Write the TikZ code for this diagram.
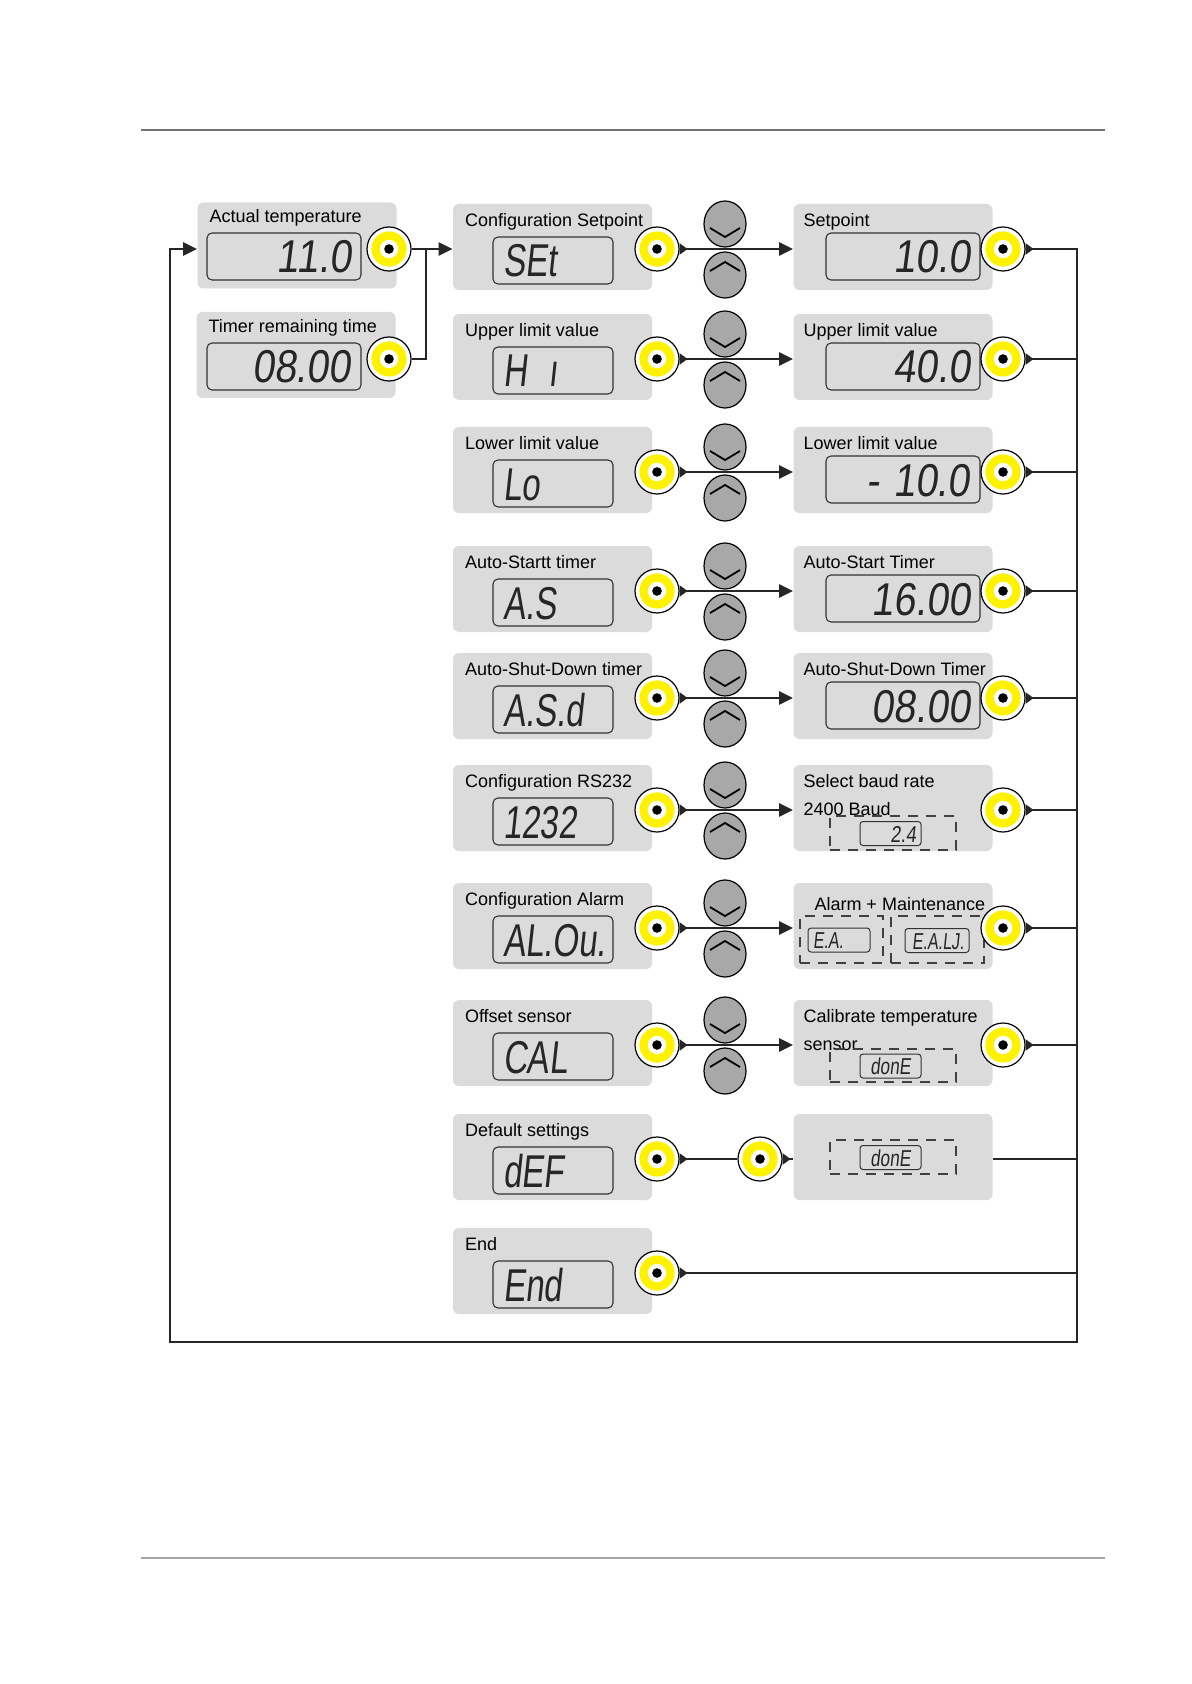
\documentclass[tikz,border=0pt]{standalone}
\usepackage{fontspec}
\setmainfont{Liberation Sans}
\newfontfamily\segfont{Liberation Sans}[FakeSlant=0.15]
\usepackage{tikz}
\usetikzlibrary{arrows.meta,positioning,shapes.geometric,calc}
\definecolor{panelgray}{RGB}{219,219,219}
\definecolor{keygray}{RGB}{168,168,168}
\definecolor{okyellow}{RGB}{255,242,0}
\newcommand{\seg}[2][0.86]{\scalebox{#1}[1]{\segfont #2}}

\begin{document}
\begin{tikzpicture}[x=0.5pt,y=-0.5pt,
  panel/.style={fill=panelgray,rounded corners=3pt,minimum width=99.5pt,
              minimum height=43pt,inner sep=0pt},
  lbl/.style={anchor=north west,inner sep=0pt,font=\fontsize{9}{11}\selectfont},
  lcd/.style={draw=black!80,line width=0.55pt,rounded corners=2.5pt,
              minimum height=23.5pt,inner xsep=5pt,inner ysep=0pt,text=black!85,
              text height=16.5pt,text depth=0pt,font=\fontsize{23}{23}\selectfont},
  lcdm/.style={lcd,text width=50pt,align=left},
  lcds/.style={lcd,text width=67pt,align=right},
  lcdx/.style={draw=black!80,line width=0.5pt,rounded corners=1.5pt,text=black!85,
              minimum height=12pt,inner xsep=2.5pt,inner ysep=0pt,
              text height=8.5pt,text depth=0pt,font=\fontsize{11.5}{11.5}\selectfont},
  dbox/.style={draw=black!75,line width=0.6pt,dash pattern=on 5pt off 4pt,inner sep=0pt},
  okbtn/.style={circle,draw,line width=0.6pt,fill=white,minimum size=22pt,inner sep=0pt,
     path picture={
       \fill[okyellow] (path picture bounding box.center) circle (8.8pt);
       \fill[white] (path picture bounding box.center) circle (4.6pt);
       \fill[black] (path picture bounding box.center) circle (2.4pt);}},
  key/.style={ellipse,draw,line width=0.6pt,fill=keygray,minimum width=21pt,
     minimum height=23pt,inner sep=0pt},
  keydn/.style={key,path picture={\draw[line width=0.9pt]
     ([shift={(-15,4)}]path picture bounding box.center) -- ++(15,9) -- ++(15,-9);}},
  keyup/.style={key,path picture={\draw[line width=0.9pt]
     ([shift={(-15,-4)}]path picture bounding box.center) -- ++(15,-9) -- ++(15,9);}},
  conn/.style={line width=1.2pt,draw=black!85},
  arr/.style={conn,{Triangle[reversed,length=4pt,width=5.5pt]}-{Triangle[length=7pt,width=6.5pt]}},
  ptr/.style={conn,{Triangle[reversed,length=4pt,width=5.5pt]}-},
  rule/.style={line width=0.8pt,draw=black!55}]
\useasboundingbox (0,0) rectangle (1191,1684);
\draw[rule] (141,130) -- (1105,130);
\draw[rule,draw=black!35] (141,1558) -- (1105,1558);

% current values
\node[panel] (act) at (297,245.5) {};
\node[lbl] at ([xshift=6pt,yshift=-3.5pt]act.north west) {Actual temperature};
\node[lcds] (actl) at (284,256.5) {\seg{11.0}};
\node[okbtn] (actb) at (389,249) {};
\node[panel] (tmr) at (296,355) {};
\node[lbl] at ([xshift=6pt,yshift=-3.5pt]tmr.north west) {Timer remaining time};
\node[lcds] (tmrl) at (284,366.5) {\seg{08.00}};
\node[okbtn] (tmrb) at (389,359) {};
\coordinate (jn) at (426,249);

% menu entries
\foreach \i/\yy/\txt/\disp in {1/249/Configuration Setpoint/SEt,
    2/359/Upper limit value/H\ \ ı, 3/472/Lower limit value/Lo,
    4/591/Auto-Startt timer/A.S, 5/698/Auto-Shut-Down timer/A.S.d,
    6/810/Configuration RS232/1232, 7/928/Configuration Alarm/AL.Ou.,
    8/1045/Offset sensor/CAL, 9/1159/Default settings/dEF, 10/1273/End/End} {
  \node[panel] (m\i) at (552.5,\yy-2) {};
  \node[lbl] at ([xshift=6pt,yshift=-4.5pt]m\i.north west) {\txt};
  \node[lcdm] (ml\i) at (553,\yy+11.5) {\seg[0.72]{\disp}};
  \node[okbtn] (mb\i) at (657,\yy) {};
}

% values
\foreach \i/\yy/\txt/\disp in {1/249/Setpoint/10.0, 2/359/Upper limit value/40.0,
    3/472/Lower limit value/- 10.0, 4/591/Auto-Start Timer/16.00,
    5/698/Auto-Shut-Down Timer/08.00} {
  \node[panel] (r\i) at (893,\yy-2) {};
  \node[lbl] at ([xshift=5pt,yshift=-4.5pt]r\i.north west) {\txt};
  \node[lcds] (rl\i) at (903,\yy+7.5) {\seg{\disp}};
}
\node[panel] (r6) at (893,808) {};
\node[lbl] (sbr) at ([xshift=5pt,yshift=-4.5pt]r6.north west) {Select baud rate};
\node[lbl,anchor=base west] at ([yshift=-14pt]sbr.base west) {2400 Baud};
\node[dbox,minimum width=63pt,minimum height=17pt] (dz6) at (893,833) {};
\node[lcdx,text width=25.5pt,align=right] (rl6) at (890.5,833.5) {\seg[0.8]{2.4}};

\node[panel] (r7) at (893,926) {};
\node[lbl] at ([xshift=10.5pt,yshift=-7pt]r7.north west) {Alarm + Maintenance};
\node[dbox,minimum width=41.5pt,minimum height=23.5pt] (dz7a) at (841.5,939.5) {};
\node[dbox,minimum width=46.5pt,minimum height=23.5pt] (dz7b) at (937.5,939.5) {};
\node[lcdx,text width=26pt,align=left] (rl7a) at (839,940) {\seg[0.7]{E.A.}};
\node[lcdx,text width=27pt,align=right] (rl7b) at (937,940.5) {\seg[0.7]{E.A.LJ.}};

\node[panel] (r8) at (893,1043) {};
\node[lbl] (ctl) at ([xshift=5pt,yshift=-4.5pt]r8.north west) {Calibrate temperature};
\node[lbl,anchor=base west] at ([yshift=-14pt]ctl.base west) {sensor};
\node[dbox,minimum width=63pt,minimum height=16.5pt] (dz8) at (893,1065.5) {};
\node[lcdx,text width=25.5pt,align=center] (rl8) at (890.5,1066) {\seg[0.75]{donE}};

\node[panel] (r9) at (893,1157) {};
\node[dbox,minimum width=63pt,minimum height=17pt] (dz9) at (893,1157) {};
\node[lcdx,text width=25.5pt,align=center] (rl9) at (890.5,1157.5) {\seg[0.75]{donE}};
\node[okbtn] (db) at (760,1159) {};

% keys and enter buttons
\foreach \i/\yy in {1/249,2/359,3/472,4/591,5/698,6/810,7/928,8/1045} {
  \node[keydn] (kd\i) at (725,\yy-25) {};
  \node[keyup] (ku\i) at (725,\yy+26) {};
  \node[okbtn] (rb\i) at (1003,\yy) {};
}

% connectors
\coordinate (bus) at (1077,1342);
\coordinate (loop) at (170,1342);
\draw[conn] (actb.east) -- (jn);
\draw[conn] (tmrb.east) -| (jn);
\draw[conn,-{Triangle[length=7pt,width=6.5pt]}] (jn) -- (m1.west |- jn);
\draw[arr] (rb1.east) -| (bus) -- (loop) |- (act.west |- actb);
\foreach \i in {2,...,8} {\draw[ptr] (rb\i.east) -- (rb\i.east -| bus);}
\foreach \i in {1,...,8} {\draw[arr] (mb\i.east) -- (r\i.west |- mb\i);}
\draw[ptr] (mb9.east) -- (db.west);
\draw[ptr] (db.east) -- (r9.west |- db);
\draw[conn] (r9.east |- db) -- (db -| bus);
\draw[ptr] (mb10.east) -- (mb10.east -| bus);
\end{tikzpicture}
\end{document}
